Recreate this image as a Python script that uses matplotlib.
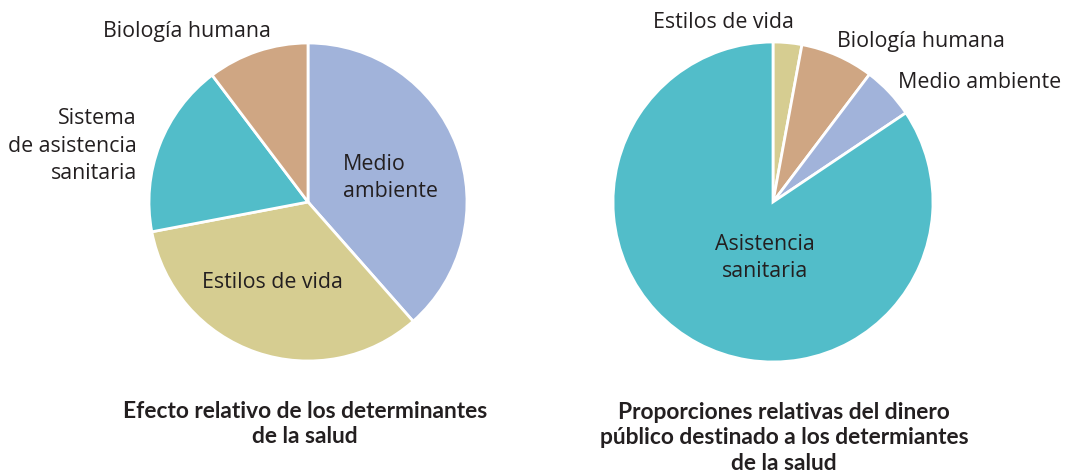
import numpy as np
import matplotlib.pyplot as plt

# datos (porcentajes aproximados)
left_labels = ['Medio\nambiente', 'Estilos de vida', 'Sistema\nde asistencia\nsanitaria', 'Biología humana']
left_values = [38.5, 33.5, 17.7, 10.3]
right_labels = ['Estilos de vida', 'Biología humana', 'Medio ambiente', 'Asistencia\nsanitaria']
right_values = [2.9, 7.4, 5.3, 84.4]

left_title = 'Efecto relativo de los determinantes\nde la salud'
right_title = 'Proporciones relativas del dinero\npúblico destinado a los determiantes\nde la salud'

c_blue = '#A1B3DA'
c_khaki = '#D6CD91'
c_tan = '#CFA683'
c_teal = '#52BDC9'
left_colors = [c_blue, c_khaki, c_teal, c_tan]
right_colors = [c_khaki, c_tan, c_blue, c_teal]

txt_color = '#231F20'
plt.rcParams['font.family'] = ['Open Sans', 'DejaVu Sans']

W, H = 1065, 476
fig = plt.figure(figsize=(W / 100, H / 100), dpi=100)


def pie_axes(cx, cy, r):
    # eje cuadrado en pixeles, radio 1 -> r pixeles
    return fig.add_axes([(cx - r) / W, (H - cy - r) / H, 2 * r / W, 2 * r / H])


def px(x, y):
    return x / W, 1 - y / H


ax1 = pie_axes(308, 202, 159)
w1, t1 = ax1.pie(left_values, colors=left_colors, startangle=90, counterclock=False,
                 wedgeprops=dict(edgecolor='white', linewidth=2))
ax1.set_xlim(-1, 1)
ax1.set_ylim(-1, 1)
ax1.axis('off')

ax2 = pie_axes(773, 202, 160)
w2, t2 = ax2.pie(right_values, colors=right_colors, startangle=90, counterclock=False,
                 wedgeprops=dict(edgecolor='white', linewidth=2))
ax2.set_xlim(-1, 1)
ax2.set_ylim(-1, 1)
ax2.axis('off')

fs = 15.4
ls = 1.4
# etiquetas izquierda
fig.text(*px(343, 178), left_labels[0], ha='left', va='center', fontsize=fs, color=txt_color, linespacing=ls)
fig.text(*px(272, 282), left_labels[1], ha='center', va='center', fontsize=fs, color=txt_color)
fig.text(*px(137, 146), left_labels[2], ha='right', va='center', fontsize=fs, color=txt_color, linespacing=ls)
fig.text(*px(187, 32), left_labels[3], ha='center', va='center', fontsize=fs, color=txt_color)

# etiquetas derecha
fig.text(*px(723, 22), right_labels[0], ha='center', va='center', fontsize=fs, color=txt_color)
fig.text(*px(921, 42), right_labels[1], ha='center', va='center', fontsize=fs, color=txt_color)
fig.text(*px(980, 82), right_labels[2], ha='center', va='center', fontsize=fs, color=txt_color)
fig.text(*px(765, 258), right_labels[3], ha='center', va='center', fontsize=fs, color=txt_color, linespacing=ls)

# titulos
tfont = ['Lato', 'DejaVu Sans']
fig.text(*px(305, 424), left_title, ha='center', va='center', fontsize=16.4, fontweight='bold',
         color=txt_color, family=tfont, linespacing=1.26)
fig.text(*px(784, 438), right_title, ha='center', va='center', fontsize=16.4, fontweight='bold',
         color=txt_color, family=tfont, linespacing=1.26)

fig.savefig('out.png', dpi=100)
